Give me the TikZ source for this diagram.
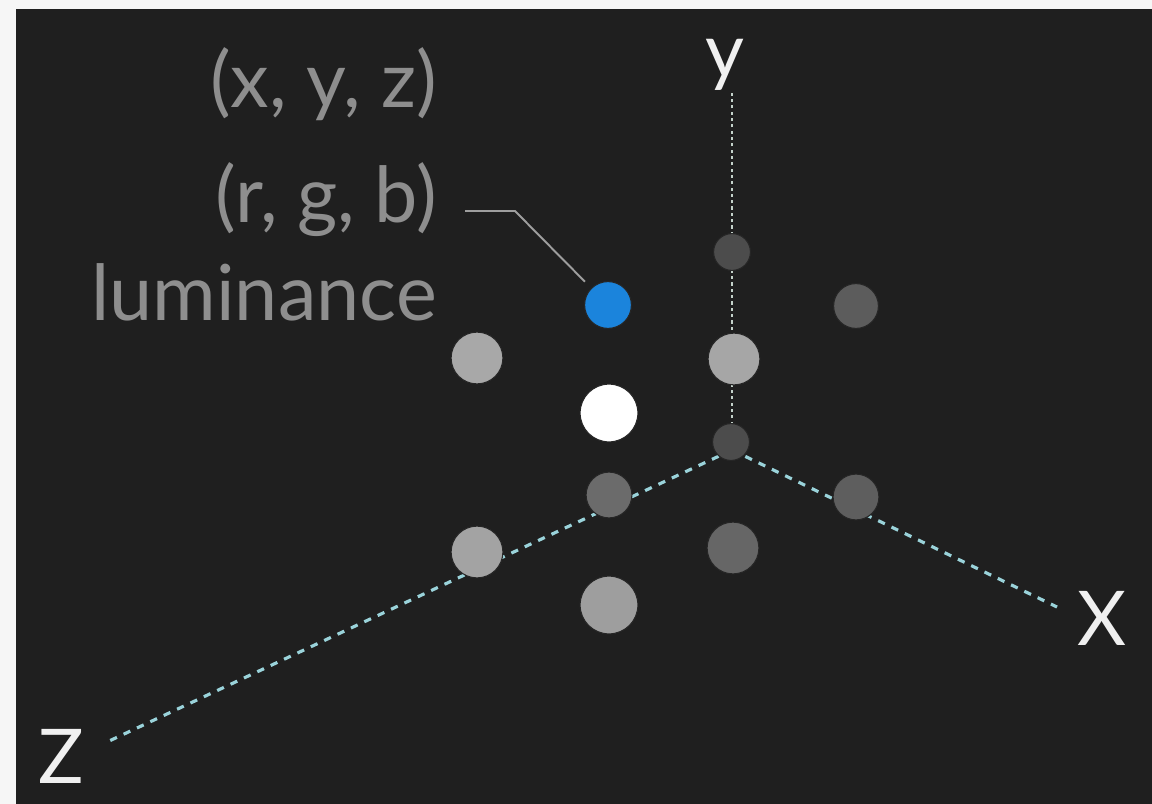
\documentclass[tikz,border=0pt]{standalone}
\usepackage{fontspec}
\setmainfont{Lato}
\usetikzlibrary{calc}

\definecolor{bgdark}{HTML}{1F1F1F}
\definecolor{bglight}{HTML}{F6F6F6}
\definecolor{labelgray}{HTML}{8E8E8E}
\definecolor{axiscyan}{HTML}{9AD3DA}
\definecolor{axisgray}{HTML}{C4D2CA}
\definecolor{dotblue}{HTML}{1B84DC}

\begin{document}
\begin{tikzpicture}[x=0.02cm, y=-0.02cm,
    info/.style={anchor=base east, inner sep=0pt, text=labelgray, font=\fontsize{44}{50}\selectfont},
    axislabel/.style={anchor=base, inner sep=0pt, text=white!94!black, font=\fontsize{43}{50}\selectfont},
    axisline/.style={axiscyan, line width=1.8pt, dash pattern=on 4.2pt off 4.2pt},
    dot/.style={circle, inner sep=0pt, draw=black!85, line width=0.6pt, minimum size={#1*0.567pt}},
    leader/.style={draw=white!62!black, line width=1.1pt}]

    \fill[bglight] (0,0) rectangle (1152,804);
    \fill[bgdark] (16,9) rectangle (1152,804);

    % axes
    \coordinate (O) at (732,450);
    \coordinate (xend) at (1057,607);
    \coordinate (zend) at (107,742);
    \coordinate (yend) at (732,92);
    \draw[axisline] (O) -- (xend);
    \draw[axisline] (O) -- (zend);
    \draw[axisgray, line width=1.2pt, dash pattern=on 1.8pt off 1.8pt] (O) -- (yend);
    \node[axislabel] (ylab) at (725,78) {y};
    \node[axislabel] (xlab) at (1102,645) {X};
    \node[axislabel] (zlab) at (61,783) {Z};

    % points
    \node[dot=37, fill=black!70] (p1) at (732,252) {};
    \node[dot=47, fill=dotblue] (blue) at (608,305) {};
    \node[dot=45, fill=black!64] (p2) at (856,306) {};
    \node[dot=52, fill=black!34] (p3) at (477,358) {};
    \node[dot=52, fill=black!35] (p4) at (734,359) {};
    \node[dot=58, fill=white] (p5) at (609,413) {};
    \node[dot=37, fill=black!70] (p6) at (731,442) {};
    \node[dot=46, fill=black!58] (p7) at (609,495) {};
    \node[dot=46, fill=black!63] (p8) at (856,497) {};
    \node[dot=52, fill=black!36] (p9) at (477,552) {};
    \node[dot=52, fill=black!60] (p10) at (733,548) {};
    \node[dot=58, fill=black!38] (p11) at (609,605) {};

    % labels
    \node[info] (xyz) at (437,108) {(x, y, z)};
    \node[info] (rgb) at (437,222) {(r, g, b)};
    \node[info] (lum) at (437,320) {luminance};
    \coordinate (leadstart) at (465,211);
    \coordinate (leadbend) at (515,211);
    \draw[leader, shorten >=5pt] (leadstart) -- (leadbend) -- (blue);

\end{tikzpicture}
\end{document}
